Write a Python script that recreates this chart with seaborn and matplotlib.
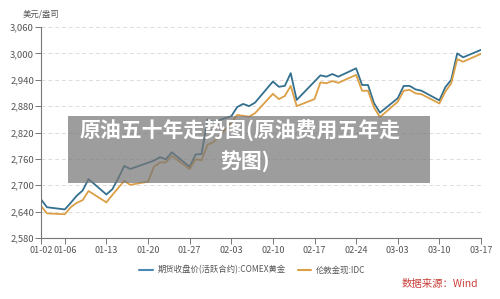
import pandas as pd
import numpy as np
import matplotlib
matplotlib.use('Agg')
import matplotlib.pyplot as plt
import matplotlib.dates as mdates
from matplotlib.patches import Rectangle
from matplotlib.ticker import FuncFormatter
import seaborn as sns

# ── Data ──────────────────────────────────────────────────────────────────────
comex_dates = ['01-02', '01-03', '01-06', '01-07', '01-08', '01-09', '01-10',
               '01-13', '01-14', '01-15', '01-16', '01-17',
               '01-21', '01-22', '01-23', '01-24',
               '01-27', '01-28', '01-29', '01-30', '01-31',
               '02-03', '02-04', '02-05', '02-06', '02-07',
               '02-10', '02-11', '02-12', '02-13', '02-14',
               '02-18', '02-19', '02-20', '02-21',
               '02-24', '02-25', '02-26', '02-27', '02-28',
               '03-03', '03-04', '03-05', '03-06', '03-07',
               '03-10', '03-11', '03-12', '03-13', '03-14', '03-17']
comex_gold = [2668, 2650, 2645, 2660, 2676, 2688, 2714,
              2679, 2691, 2716, 2744, 2737,
              2756, 2764, 2759, 2775,
              2742, 2770, 2771, 2850, 2844,
              2857, 2878, 2885, 2880, 2888,
              2936, 2924, 2926, 2955, 2894,
              2950, 2947, 2953, 2947,
              2966, 2928, 2928, 2887, 2865,
              2898, 2926, 2926, 2918, 2915,
              2893, 2923, 2940, 3000, 2991, 3008]

london_dates = ['01-02', '01-03', '01-06', '01-07', '01-08', '01-09', '01-10',
                '01-13', '01-14', '01-15', '01-16', '01-17',
                '01-20', '01-21', '01-22', '01-23', '01-24',
                '01-27', '01-28', '01-29', '01-30', '01-31',
                '02-03', '02-04', '02-05', '02-06', '02-07',
                '02-10', '02-11', '02-12', '02-13', '02-14',
                '02-17', '02-18', '02-19', '02-20', '02-21',
                '02-24', '02-25', '02-26', '02-27', '02-28',
                '03-03', '03-04', '03-05', '03-06', '03-07',
                '03-10', '03-11', '03-12', '03-13', '03-14', '03-17']
london_gold = [2653, 2636, 2634, 2650, 2660, 2666, 2687,
               2661, 2678, 2694, 2710, 2701,
               2708, 2742, 2752, 2752, 2767,
               2737, 2759, 2757, 2792, 2798,
               2842, 2860, 2858, 2856, 2864,
               2908, 2896, 2903, 2926, 2880,
               2896, 2934, 2932, 2937, 2933,
               2951, 2915, 2915, 2877, 2855,
               2890, 2915, 2917, 2909, 2907,
               2886, 2913, 2932, 2987, 2981, 2999]

tick_dates = ['01-02', '01-06', '01-13', '01-20', '01-27', '02-03', '02-10',
              '02-17', '02-24', '03-03', '03-10', '03-17']
y_ticks = [2580, 2640, 2700, 2760, 2820, 2880, 2940, 3000, 3060]

S1 = '期货收盘价(活跃合约):COMEX黄金'
S2 = '伦敦金现:IDC'

def to_dt(md):
    return pd.to_datetime(['2025-' + d for d in md])

df = pd.concat([
    pd.DataFrame({'date': to_dt(comex_dates), 'price': comex_gold, 'series': S1}),
    pd.DataFrame({'date': to_dt(london_dates), 'price': london_gold, 'series': S2}),
])

# ── Plot ──────────────────────────────────────────────────────────────────────
BLUE, ORANGE = '#33708f', '#dc9f45'
sns.set_style('white')
plt.rcParams['font.family'] = ['Noto Sans CJK SC', 'DejaVu Sans']

fig = plt.figure(figsize=(5, 2.99), dpi=100)
ax = fig.add_axes([0.082, 0.204, 0.88, 0.7057])

sns.lineplot(data=df, x='date', y='price', hue='series',
             palette={S1: BLUE, S2: ORANGE}, linewidth=1.3, ax=ax, legend=False)

ax.set_xlim(to_dt(['01-02'])[0], to_dt(['03-17'])[0])
ax.set_ylim(2580, 3060)
ax.set_yticks(y_ticks)
ax.yaxis.set_major_formatter(FuncFormatter(lambda v, p: f'{int(v):,}'))
ax.set_xticks(to_dt(tick_dates))
ax.xaxis.set_major_formatter(mdates.DateFormatter('%m-%d'))
ax.set_xlabel('')
ax.set_ylabel('')

ax.grid(axis='y', color='#dddddd', linestyle=(0, (4, 3)), linewidth=0.7)
ax.grid(axis='x', visible=False)
for s in ['top', 'right']:
    ax.spines[s].set_visible(False)
for s in ['left', 'bottom']:
    ax.spines[s].set_color('#777777')
    ax.spines[s].set_linewidth(0.8)
ax.tick_params(axis='y', direction='out', length=4, width=0.7, color='#777777',
               labelsize=6.8, labelcolor='#555555', pad=1, left=True)
ax.tick_params(axis='x', direction='out', length=4, width=0.7, color='#777777',
               labelsize=6.5, labelcolor='#555555', pad=1.5, bottom=True)

fig.text(0.046, 0.953, '美元/盎司', fontsize=6, color='#555555', va='center')

# legend
handles = [plt.Line2D([], [], color='#4a89b5', lw=1.5),
           plt.Line2D([], [], color=ORANGE, lw=1.5)]
fig.legend(handles, [S1, S2], loc='center', bbox_to_anchor=(0.505, 0.097),
           ncol=2, frameon=False, fontsize=6, handlelength=1.6,
           columnspacing=1.4, handletextpad=0.6, labelcolor='#555555')

fig.text(0.956, 0.05, '数据来源：Wind', fontsize=7.5, color='#c8403a',
         ha='right', va='center')

# overlay banner
fig.patches.append(Rectangle((0.136, 0.388), 0.724, 0.224, transform=fig.transFigure,
                             facecolor='#777777', alpha=0.72, edgecolor='none',
                             zorder=5))
fig.text(0.481, 0.562, '原油五十年走势图(原油费用五年走', fontsize=15,
         fontweight='bold', color='white', ha='center', va='center', zorder=6)
fig.text(0.49, 0.462, '势图)', fontsize=15,
         fontweight='bold', color='white', ha='center', va='center', zorder=6)

plt.savefig('out.png', dpi=100)
